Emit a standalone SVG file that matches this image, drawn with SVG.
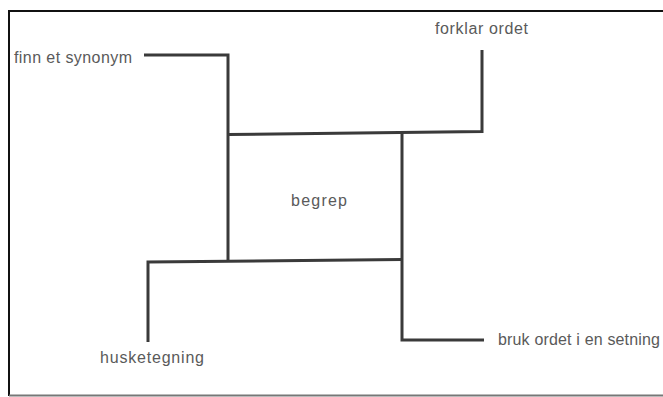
<svg xmlns="http://www.w3.org/2000/svg" width="663" height="397" viewBox="0 0 663 397">
<style>
.frame{stroke:#111;stroke-width:2;fill:none}
.line{stroke:#3a3a3a;stroke-width:3;fill:none;stroke-linejoin:miter;stroke-linecap:butt}
.lbl{font-family:"Liberation Sans",Arial,sans-serif;font-size:16px;fill:#5a5a5a}
</style>
<rect width="663" height="397" fill="#fff"/>
<g id="frame">
<line class="frame" x1="9" y1="11" x2="663" y2="11"/>
<line class="frame" x1="9" y1="10" x2="9" y2="396"/>
<line x1="9" y1="395.5" x2="663" y2="395.5" stroke="#777" stroke-width="2"/>
</g>
<g id="connectors">
<polyline class="line" points="144,55 228,55 228,262"/>
<polyline class="line" points="228,134.5 482,131.5 482,50"/>
<polyline class="line" points="402,133 402,340 484,340"/>
<polyline class="line" points="148,342 148,262 402,259.5"/>
</g>
<g id="begrep"><text class="lbl" x="319" y="206" text-anchor="middle" textLength="56">begrep</text></g>
<g id="synonym"><text class="lbl" x="14" y="63" textLength="118">finn et synonym</text></g>
<g id="forklar"><text class="lbl" x="435" y="34" textLength="93">forklar ordet</text></g>
<g id="husketegning"><text class="lbl" x="100" y="363" textLength="104">husketegning</text></g>
<g id="bruk"><text class="lbl" x="498" y="345" textLength="162">bruk ordet i en setning</text></g>
</svg>
